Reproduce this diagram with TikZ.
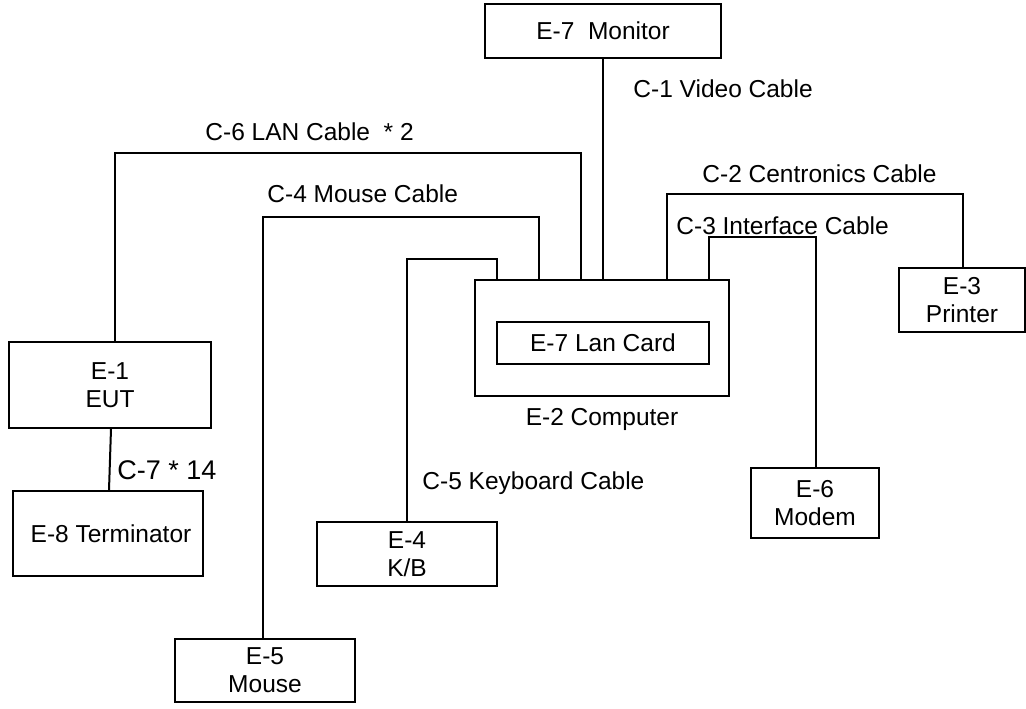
\documentclass[tikz,border=0pt]{standalone}
\usepackage{fontspec}
\setmainfont{Liberation Sans}
\begin{document}
\begin{tikzpicture}[x=0.5pt,y=-0.5pt,
  box/.style={draw, line width=1pt, inner sep=0pt, align=center, font=\fontsize{12.25}{14}\selectfont},
  lbl/.style={inner sep=0pt, anchor=base west, font=\fontsize{12.25}{14}\selectfont},
  wire/.style={line width=1pt}]
\useasboundingbox (0,0) rectangle (1026,708);
% boxes
\node[box, minimum width=118pt, minimum height=27pt] (mon) at (603,31) {E-7\ \ Monitor};
\node[box, minimum width=127pt, minimum height=58pt] (comp) at (602,338) {};
\node[box, minimum width=106pt, minimum height=21pt] (lan) at (603,343) {E-7 Lan Card};
\node[box, minimum width=101pt, minimum height=43pt] (eut) at (110,385) {E-1\\EUT};
\node[box, minimum width=95pt, minimum height=42.5pt] (term) at (108,533.5) {\hspace*{3pt}E-8 Terminator};
\node[box, minimum width=63pt, minimum height=32pt] (prn) at (962,300) {E-3\\Printer};
\node[box, minimum width=64pt, minimum height=35pt] (mod) at (815,503) {E-6\\Modem};
\node[box, minimum width=90pt, minimum height=32pt] (kb) at (407,554) {E-4\\K/B};
\node[box, minimum width=90pt, minimum height=31.5pt] (mouse) at (265,670.5) {E-5\\Mouse};
% labels
\node[lbl] (l1) at (633,97) {C-1 Video Cable};
\node[lbl] (l6) at (205,140) {C-6 LAN Cable\ \ * 2};
\node[lbl] (l4) at (267,202) {C-4 Mouse Cable};
\node[lbl] (l2) at (702,182) {C-2 Centronics Cable};
\node[lbl] (l3) at (676,234) {C-3 Interface Cable};
\node[lbl, anchor=base] (l2c) at (602,425) {E-2 Computer};
\node[lbl] (l5) at (422,489) {C-5 Keyboard Cable};
\node[lbl, font=\fontsize{13.5}{16}\selectfont] (l7) at (117,479) {C-7 * 14};
% connectors
\draw[wire] (mon.south) -- (comp.north -| mon.south);
\draw[wire] (eut.north -| 115,0) |- (581,153) -- (comp.north -| 581,0);
\draw[wire] (mouse.north -| 263,0) |- (539,217) -- (comp.north -| 539,0);
\draw[wire] (kb.north) |- (497,259) -- (comp.north -| 497,0);
\draw[wire] (comp.north -| 667,0) |- (963,194) -- (prn.north -| 963,0);
\draw[wire] (comp.north -| 709,0) |- (816,237) -- (mod.north -| 816,0);
\draw[wire] (eut.south -| 111,0) -- (term.north -| 109,0);
\end{tikzpicture}
\end{document}
